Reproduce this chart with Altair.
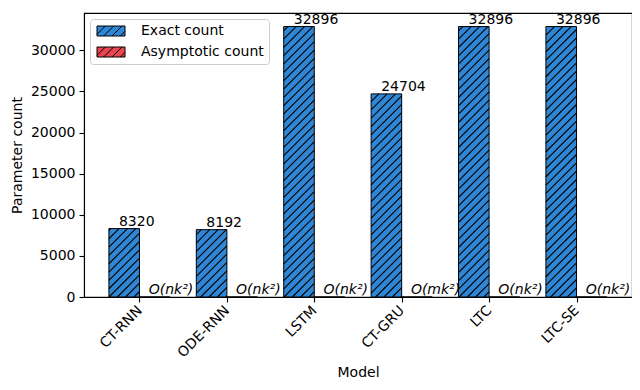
import json
import altair as alt
import pandas as pd

# ---- data ----
models = ["CT-RNN", "ODE-RNN", "LSTM", "CT-GRU", "LTC", "LTC-SE"]
exact_counts = [8320, 8192, 32896, 24704, 32896, 32896]
asymptotic_counts = [0, 0, 0, 0, 0, 0]
asymptotic_labels = ["O(nk²)", "O(nk²)", "O(nk²)", "O(mk²)", "O(nk²)", "O(nk²)"]
series_names = ["Exact count", "Asymptotic count"]
y_ticks = [0, 5000, 10000, 15000, 20000, 25000, 30000]

# ---- style / layout ----
BLUE = "#2f86d4"
RED = "#e8464f"
FONT = "DejaVu Sans"
FS = 14
BAR_W = 0.35
W, H = 548, 284
XMIN = -BAR_W - 0.05 * (len(models) - 1 + 2 * BAR_W)
XMAX = (len(models) - 1 + BAR_W) + 0.05 * (len(models) - 1 + 2 * BAR_W)
YMAX = max(exact_counts) * 1.05
HATCH = 100 / 12.0  # px between hatch lines

rows = []
for i, m in enumerate(models):
    rows.append(dict(model=m, idx=i, series=series_names[0], value=exact_counts[i],
                     x0=i - BAR_W, x1=i, label=str(exact_counts[i]), lx=i - BAR_W + 0.115))
    rows.append(dict(model=m, idx=i, series=series_names[1], value=asymptotic_counts[i],
                     x0=i, x1=i + BAR_W, label=asymptotic_labels[i], lx=i + 0.105))
bars = pd.DataFrame(rows)

# hatch segments ("//") clipped to each exact-count bar, 45 degrees in pixel space
sx = W / (XMAX - XMIN)
sy = H / YMAX
segs = []
for r in rows:
    if r["value"] <= 0:
        continue
    px0 = (r["x0"] - XMIN) * sx
    px1 = (r["x1"] - XMIN) * sx
    h = r["value"] * sy
    k0 = int((px0 - h) // HATCH) - 1
    k1 = int(px1 // HATCH) + 2
    for k in range(k0, k1):
        c = k * HATCH
        t0 = max(0.0, px0 - c)
        t1 = min(h, px1 - c)
        if t1 - t0 > 0.3:
            segs.append(dict(xa=(c + t0) / sx + XMIN, ya=t0 / sy,
                             xb=(c + t1) / sx + XMIN, yb=t1 / sy))
hatch = pd.DataFrame(segs)

# legend patch path: 28x10 px rectangle with "//" hatch (unit = 5 px for size 100)
def legend_path():
    L, R = -1.0, 4.6
    p = f"M{L},-1H{R}V1H{L}Z"
    step = HATCH / 5.0
    a = -3.0
    while a < R:
        t0 = max(0.0, L - a)
        t1 = min(2.0, R - a)
        if t1 > t0:
            p += f"M{a + t0:.3f},{1 - t0:.3f}L{a + t1:.3f},{1 - t1:.3f}"
        a += step
    return p

x_scale = alt.Scale(domain=[XMIN, XMAX], nice=False, zero=False)
y_scale = alt.Scale(domain=[0, YMAX], nice=False)
label_expr = json.dumps(models) + "[datum.value]"

base = alt.Chart(bars)

bar_layer = base.mark_bar(stroke="black", strokeWidth=1).encode(
    x=alt.X("x0:Q", scale=x_scale,
            axis=alt.Axis(values=list(range(len(models))), labelExpr=label_expr,
                          labelAngle=315, labelAlign="right", labelBaseline="middle",
                          labelPadding=6, title="Model", titlePadding=6)),
    x2="x1:Q",
    y=alt.Y("value:Q", scale=y_scale,
            axis=alt.Axis(values=y_ticks, format="d", title="Parameter count",
                          titlePadding=6)),
    y2=alt.datum(0),
    color=alt.Color("series:N",
                    scale=alt.Scale(domain=series_names, range=[BLUE, RED]),
                    legend=alt.Legend(title=None, orient="top-left", offset=6,
                                      padding=5, rowPadding=7, labelOffset=32,
                                      symbolType=legend_path(), symbolSize=100,
                                      symbolStrokeColor="black", symbolStrokeWidth=1,
                                      strokeColor="#cccccc", fillColor="rgba(255,255,255,0.8)",
                                      cornerRadius=3, labelFontSize=FS, labelFont=FONT,
                                      labelColor="black")),
)

hatch_layer = alt.Chart(hatch).mark_rule(color="black", strokeWidth=1.1).encode(
    x=alt.X("xa:Q", scale=x_scale), y=alt.Y("ya:Q", scale=y_scale),
    x2="xb:Q", y2="yb:Q",
)

exact_text = base.transform_filter(alt.datum.series == series_names[0]).mark_text(
    align="left", baseline="alphabetic", dy=-3, fontSize=FS, font=FONT, color="black"
).encode(x=alt.X("lx:Q", scale=x_scale), y=alt.Y("value:Q", scale=y_scale), text="label:N")

asym_text = base.transform_filter(alt.datum.series == series_names[1]).mark_text(
    align="left", baseline="alphabetic", dy=-3, fontSize=FS, font=FONT, color="black",
    fontStyle="italic"
).encode(x=alt.X("lx:Q", scale=x_scale), y=alt.Y("value:Q", scale=y_scale), text="label:N")

chart = alt.layer(bar_layer, hatch_layer, exact_text, asym_text).properties(
    width=W, height=H,
    autosize=alt.AutoSizeParams(type="none"),
    padding={"left": 76, "top": 5, "right": 0, "bottom": 85},
).configure(font=FONT).configure_view(
    stroke="black", strokeWidth=1.1
).configure_axis(
    grid=False, domainColor="black", domainWidth=1.1, tickColor="black", tickWidth=1.1,
    tickSize=5, labelColor="black", titleColor="black", labelFontSize=FS, titleFontSize=FS,
    titleFontWeight="normal", labelFont=FONT, titleFont=FONT, labelPadding=4,
)

chart.save("out.html", embed_options={"renderer": "svg", "actions": False})
